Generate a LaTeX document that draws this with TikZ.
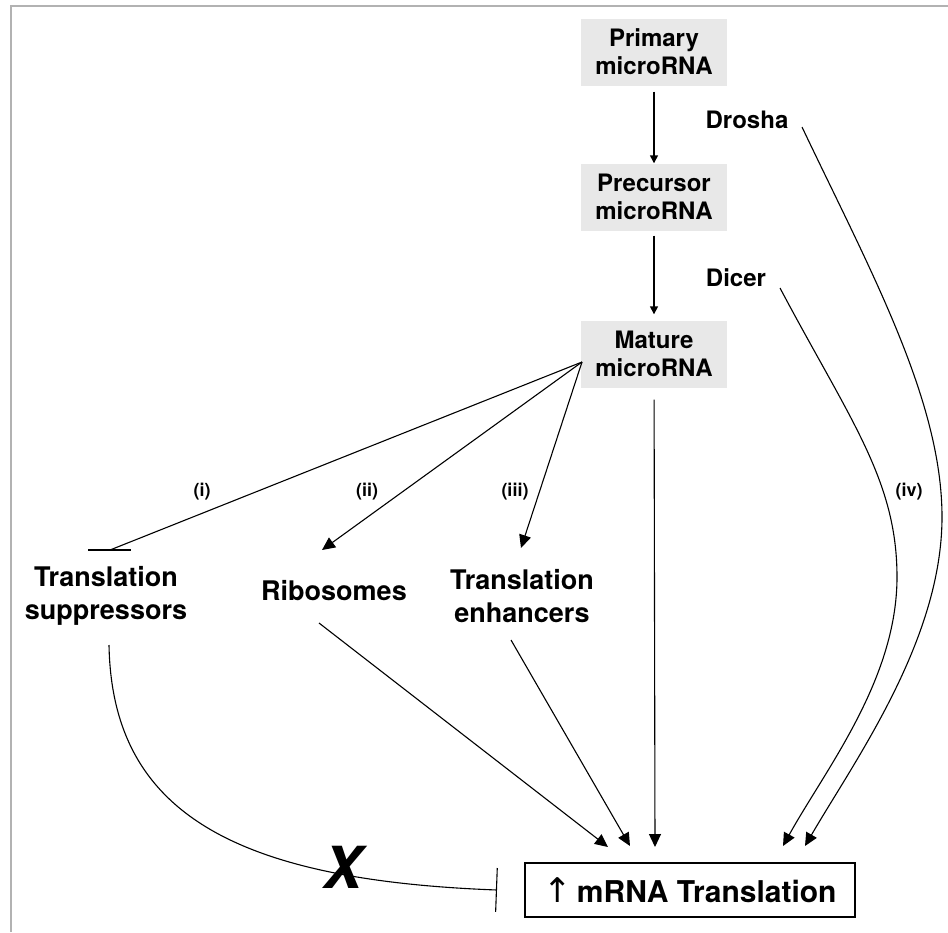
\documentclass[tikz,border=0pt]{standalone}
\usepackage{fontspec}
\setmainfont{TeX Gyre Heros}
\newfontfamily\arrowfont{DejaVu Sans}
\usetikzlibrary{arrows.meta}
\tikzset{
  mirna/.style={fill=black!9, minimum width=146pt, minimum height=67pt, inner sep=0pt,
                align=center, font=\fontsize{24}{28}\selectfont\bfseries},
  factor/.style={inner sep=0pt, align=center, font=\fontsize{27}{33}\selectfont\bfseries},
  enzyme/.style={inner sep=0pt, font=\fontsize{24}{28}\selectfont\bfseries},
  route/.style={inner sep=0pt, font=\fontsize{18}{20}\selectfont\bfseries},
  wire/.style={line width=1.1pt},
  link/.style={wire, -{Triangle[length=13pt,width=12pt]}},
  chain/.style={line width=1.4pt, -{Triangle[length=8pt,width=8pt]}}
}
\begin{document}
\begin{tikzpicture}[x=1pt,y=-1pt]
\useasboundingbox (0,0) rectangle (948,932);
\draw[black!30, line width=2pt] (11,932) -- (11,6) -- (948,6);

\node[mirna] (pri) at (654,52) {Primary\\microRNA};
\node[mirna] (pre) at (654,197) {Precursor\\microRNA};
\node[mirna] (mat) at (654,354) {Mature\\microRNA};
\node[enzyme] (drosha) at (747,120) {Drosha};
\node[enzyme] (dicer) at (736,278) {Dicer};
\node[factor] (sup) at (106,596) {Translation\\suppressors};
\node[factor] (ribo) at (334,591) {Ribosomes};
\node[factor] (enh) at (522,596) {Translation\\enhancers};
\node[draw, line width=1.5pt, minimum width=330pt, minimum height=54pt,
      font=\fontsize{30}{34}\selectfont\bfseries] (trans) at (690,890)
      {{\arrowfont\mdseries\fontsize{34}{34}\selectfont ↑}\,mRNA Translation};

\coordinate (mout) at (582,362);
\coordinate (supbar) at (110,550);
\coordinate (ribotip) at (322,550);
\coordinate (enhtip) at (521,548);
\coordinate (suptail) at (109,645);
\coordinate (ribotail) at (319,623);
\coordinate (enhtail) at (511,640);
\coordinate (drotail) at (802,127);
\coordinate (dictail) at (780,288);
\coordinate (riboin) at (608,847);
\coordinate (enhin) at (630,846);
\coordinate (matin) at (655,847);
\coordinate (dicin) at (783,846);
\coordinate (droin) at (805,846);
\coordinate (supend) at (497,890);

\draw[chain, shorten <=6pt] (pri) -- (pre);
\draw[chain, shorten <=5pt, shorten >=6pt] (pre) -- (mat);

\draw[wire] (mout) -- (supbar);
\draw[wire] ([xshift=-22pt]supbar) -- ([xshift=21pt]supbar);
\draw[link] (mout) -- (ribotip);
\draw[link] (mout) -- (enhtip);
\node[route] (r1) at (202,492) {(i)};
\node[route] (r2) at (367,492) {(ii)};
\node[route] (r3) at (515,492) {(iii)};
\node[route] (r4) at (909,492) {(iv)};

\draw[link] (ribotail) -- (riboin);
\draw[link] (enhtail) -- (enhin);
\draw[link, shorten <=12pt] (mat) -- (matin);
\draw[link] (dictail) .. controls (850,420) and (897,480) .. (897,577)
                      .. controls (897,680) and (825,770) .. (dicin);
\draw[link] (drotail) .. controls (870,270) and (942,400) .. (942,517)
                      .. controls (942,640) and (855,760) .. (droin);

\draw[wire, -{Bar[width=44pt]}] (suptail) .. controls (112,810) and (230,880) .. (supend);
\node[inner sep=0pt, font=\fontsize{58}{60}\selectfont\bfseries\itshape] (cross) at (343,867) {X};
\end{tikzpicture}
\end{document}
